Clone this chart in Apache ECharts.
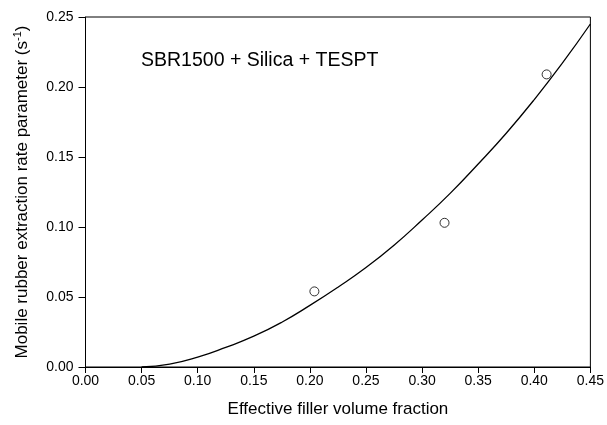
<!DOCTYPE html>
<html>
<head>
<meta charset="utf-8">
<script src="https://cdn.jsdelivr.net/npm/echarts@6/dist/echarts.min.js"></script>
<style>
html,body{margin:0;padding:0;background:#fff;}
#chart{width:607px;height:425px;}
</style>
</head>
<body>
<div id="chart"></div>
<script>
// Measured data points (effective filler volume fraction, rate parameter)
const pointX = [0.204, 0.320, 0.411];
const pointY = [0.054, 0.103, 0.209];
// Fitted curve
const curveX = [0.05, 0.075, 0.10, 0.125, 0.15, 0.175, 0.20, 0.225, 0.25, 0.275, 0.30, 0.325, 0.35, 0.375, 0.40, 0.425, 0.45];
const curveY = [0.000, 0.002, 0.007, 0.014, 0.022, 0.032, 0.044, 0.057, 0.071, 0.087, 0.105, 0.124, 0.145, 0.167, 0.191, 0.217, 0.245];
const xTicks = ['0.00','0.05','0.10','0.15','0.20','0.25','0.30','0.35','0.40','0.45'];
const yTicks = ['0.00','0.05','0.10','0.15','0.20','0.25'];
const titleText = 'SBR1500 + Silica + TESPT';
const xTitle = 'Effective filler volume fraction';

const chart = echarts.init(document.getElementById('chart'), null, {renderer:'canvas'});
const font = 'Liberation Sans, Arial, sans-serif';
chart.setOption({
  animation:false,
  backgroundColor:'#fff',
  textStyle:{fontFamily:font},
  graphic:[{
    type:'text', left:141, top:51,
    style:{text:titleText, font:'19.5px ' + font, fill:'#000'}
  }],
  grid:{left:85.5, right:14.5, top:17, bottom:58, show:true, borderColor:'#000', borderWidth:1, backgroundColor:'transparent'},
  xAxis:{
    type:'value', min:0, max:0.45, interval:0.05,
    name:xTitle, nameLocation:'middle', nameGap:34,
    nameTextStyle:{fontSize:17, color:'#000', fontFamily:font},
    axisLine:{show:true, lineStyle:{color:'#000', width:1}},
    axisTick:{show:true, length:6, lineStyle:{color:'#000'}},
    axisLabel:{fontSize:14, color:'#000', margin:7, fontFamily:font,
      formatter:(v)=>xTicks[Math.round(v/0.05)]},
    splitLine:{show:false}
  },
  yAxis:{
    type:'value', min:0, max:0.25, interval:0.05,
    name:'Mobile rubber extraction rate parameter (s{sup|-1})', nameLocation:'middle', nameGap:54, nameRotate:90,
    nameTextStyle:{fontSize:17, color:'#000', fontFamily:font,
      rich:{sup:{fontSize:11, verticalAlign:'top', color:'#000', fontFamily:font, padding:[0,0,8,0]}}},
    axisLine:{show:true, lineStyle:{color:'#000', width:1}},
    axisTick:{show:true, length:7, lineStyle:{color:'#000'}},
    axisLabel:{fontSize:14, color:'#000', margin:12, fontFamily:font,
      formatter:(v)=>yTicks[Math.round(v/0.05)]},
    splitLine:{show:false}
  },
  series:[
    {
      type:'line', data:curveX.map((x,i)=>[x,curveY[i]]),
      smooth:0.5, showSymbol:false, lineStyle:{color:'#000', width:1.3}, z:2
    },
    {
      type:'scatter', data:pointX.map((x,i)=>[x,pointY[i]]),
      symbol:'circle', symbolSize:9,
      itemStyle:{color:'rgba(255,255,255,0)', borderColor:'#000', borderWidth:1}, z:3
    }
  ]
});
</script>
</body>
</html>
